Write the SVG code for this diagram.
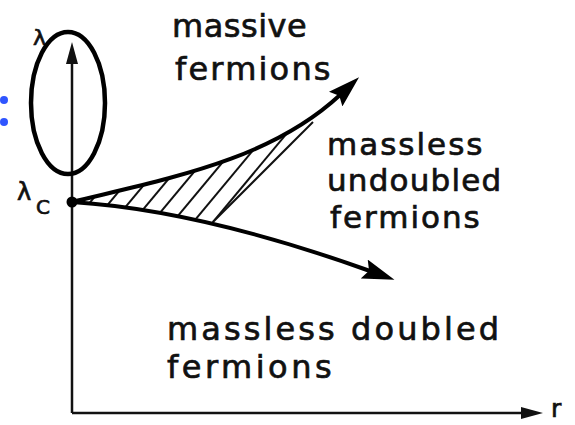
<svg xmlns="http://www.w3.org/2000/svg" width="575" height="425" viewBox="0 0 575 425">
<style>
.lbl{font-family:"DejaVu Sans","Liberation Sans",sans-serif;fill:#111;stroke:#111;stroke-width:0.7;}
.axis{stroke:#111;stroke-width:2.5;fill:none;}
.curve{stroke:#000;stroke-width:4;fill:none;stroke-linecap:round;}
.hatch{stroke:#111;stroke-width:2;fill:none;}
</style>
<defs>
<marker id="axArrow" markerUnits="userSpaceOnUse" markerWidth="24" markerHeight="14" refX="2" refY="7" orient="auto" viewBox="0 0 24 14">
<path d="M0,1 L22,7 L0,13 Z" fill="#111"/>
</marker>
<marker id="cvArrow" markerUnits="userSpaceOnUse" markerWidth="32" markerHeight="20" refX="6" refY="10" orient="auto" viewBox="0 0 32 20">
<path d="M0,0 L32,10 L0,20 L5,10 Z" fill="#000"/>
</marker>
<clipPath id="hatchClip">
<path d="M72,202 C170,178 270,160 345,90 L213,222 Q137,206 72,202 Z"/>
</clipPath>
</defs>
<rect width="575" height="425" fill="#fff"/>

<g id="axes">
<line class="axis" x1="72" y1="413" x2="72" y2="62" marker-end="url(#axArrow)"/>
<line class="axis" x1="72" y1="413" x2="523" y2="413" marker-end="url(#axArrow)"/>
</g>

<g id="hatched-region">
<g clip-path="url(#hatchClip)">
<line class="hatch" x1="62" y1="236" x2="232" y2="32"/>
<line class="hatch" x1="80" y1="238" x2="250" y2="34"/>
<line class="hatch" x1="98" y1="240" x2="268" y2="36"/>
<line class="hatch" x1="116" y1="242" x2="286" y2="38"/>
<line class="hatch" x1="134" y1="244" x2="304" y2="40"/>
<line class="hatch" x1="152" y1="247" x2="322" y2="43"/>
<line class="hatch" x1="170" y1="250" x2="340" y2="46"/>
<line class="hatch" x1="188" y1="252" x2="358" y2="48"/>
</g>
<line class="hatch" x1="213" y1="222" x2="313" y2="122"/>
</g>

<g id="connectors">
<path id="upper-branch" class="curve" d="M72,202 C170,178 270,160 340,95" marker-end="url(#cvArrow)"/>
<path id="lower-branch" class="curve" d="M72,202 Q200,210 370,271" marker-end="url(#cvArrow)"/>
</g>

<g id="critical-point">
<circle cx="72" cy="202" r="5.5" fill="#000"/>
<text class="lbl" x="17" y="200" font-size="24">λ</text>
<text class="lbl" x="36" y="214" font-size="20">C</text>
</g>

<g id="axis-labels">
<text class="lbl" x="33" y="45" font-size="22">λ</text>
<text class="lbl" x="551" y="417" font-size="25">r</text>
</g>

<g id="massive-fermions">
<text class="lbl" x="172" y="37" font-size="32" letter-spacing="0.5">massive</text>
<text class="lbl" x="175" y="80" font-size="32" letter-spacing="2.2">fermions</text>
</g>

<g id="massless-undoubled">
<text class="lbl" x="327" y="155" font-size="31" letter-spacing="2">massless</text>
<text class="lbl" x="327" y="191" font-size="31" letter-spacing="1.2">undoubled</text>
<text class="lbl" x="330" y="228" font-size="31" letter-spacing="2">fermions</text>
</g>

<g id="massless-doubled">
<text class="lbl" x="167" y="340" font-size="32" letter-spacing="3.1">massless doubled</text>
<text class="lbl" x="167" y="378" font-size="32" letter-spacing="3.5">fermions</text>
</g>

<g id="highlight">
<ellipse cx="68" cy="103" rx="37" ry="71" fill="none" stroke="#000" stroke-width="4.5"/>
<circle cx="4" cy="100" r="4" fill="#2f55ff"/>
<circle cx="4" cy="122" r="4" fill="#2f55ff"/>
</g>
</svg>
